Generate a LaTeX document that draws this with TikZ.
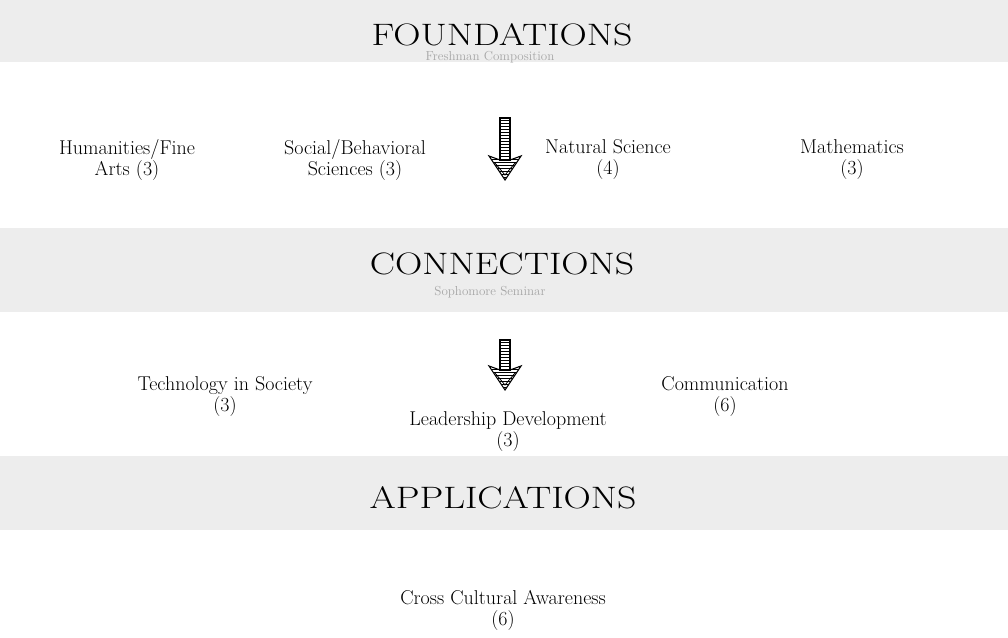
\documentclass[tikz,border=0pt]{standalone}
\usepackage{fontspec}
\usetikzlibrary{patterns, calc}

% ladder arrow from a top coordinate down to a tip coordinate
\newcommand{\ladderarrow}[2]{%
  \path (#2) ++(0,-20) coordinate (lhb);
  \draw[rungs] ($(#1)+(-5,0)$) rectangle ($(lhb)+(5,0)$);
  \draw[rungs] ($(lhb)+(-16,-4)$) -- (#2) -- ($(lhb)+(16,-4)$) -- ($(lhb)+(5,0)$) -- ($(lhb)+(-5,0)$) -- cycle;
  \draw[line width=0.8] ($(lhb)+(-10,3)$) -- ($(#2)+(0,-5)$) -- ($(lhb)+(10,3)$);
}
\newcommand{\widehead}[1]{\scalebox{1.22}[1]{#1}}

\tikzset{
  band/.style={fill=black!7, draw=none},
  rungs/.style={line width=1.1, pattern=horizontal lines},
  heading/.style={font=\fontsize{31}{36}\selectfont, inner sep=1pt},
  subhead/.style={font=\fontsize{13}{15}\selectfont, text=black!35, inner sep=1pt},
  course/.style={font=\fontsize{20}{21}\selectfont, align=center},
}

\begin{document}
\begin{tikzpicture}[x=1pt, y=-1pt]
  \useasboundingbox (0,0) rectangle (1008,637);

  % stippled bands
  \fill[band] (0,0) rectangle (1008,62);
  \fill[band] (0,228) rectangle (1008,312);
  \fill[band] (0,456) rectangle (1008,530);

  \node[heading] (found) at (502,35) {\widehead{FOUNDATIONS}};
  \node[subhead] (fresh) at (490,57) {Freshman Composition};

  \node[course] (hum) at (127,160) {Humanities/Fine\\Arts (3)};
  \node[course] (soc) at (355,160) {Social/Behavioral\\Sciences (3)};
  \node[course] (nat) at (608,160) {Natural Science\\(4)};
  \node[course] (math) at (852,160) {Mathematics\\(3)};

  \coordinate (fTop) at (505,118);
  \coordinate (fTip) at (505,180);
  \ladderarrow{fTop}{fTip}

  \node[heading] (conn) at (502,264) {\widehead{CONNECTIONS}};
  \node[subhead] (soph) at (490,292) {Sophomore Seminar};

  \coordinate (cTop) at (505,340);
  \coordinate (cTip) at (505,390);
  \ladderarrow{cTop}{cTip}

  \node[course] (tech) at (225,397) {Technology in Society\\(3)};
  \node[course] (lead) at (508,432) {Leadership Development\\(3)};
  \node[course] (comm) at (725,397) {Communication\\(6)};

  \node[heading] (appl) at (503,498) {\widehead{APPLICATIONS}};

  \node[course] (cross) at (503,610) {Cross Cultural Awareness\\(6)};
\end{tikzpicture}
\end{document}
